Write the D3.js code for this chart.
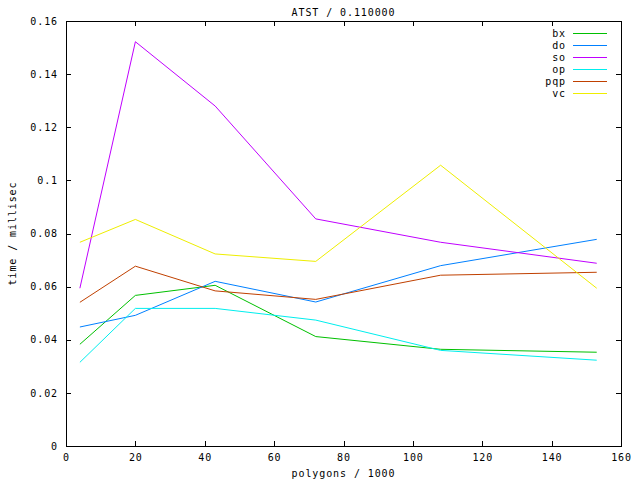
<!DOCTYPE html>
<html>
<head>
<meta charset="utf-8">
<script src="https://cdn.jsdelivr.net/npm/d3@7"></script>
<style>
  html, body { margin: 0; padding: 0; background: #fff; }
  svg { display: block; }
  text { font-family: "DejaVu Sans Mono", monospace; font-size: 10px; letter-spacing: 0.9px; fill: #000; }
</style>
</head>
<body>
<script>
const xValues = [4, 20, 43, 72, 108, 153];
const seriesNames = ["bx", "do", "so", "op", "pqp", "vc"];
const seriesColors = ["#00c000", "#0080ff", "#c000ff", "#00eeee", "#c04000", "#eeee00"];
const bx  = [0.0383, 0.0567, 0.0605, 0.0412, 0.0364, 0.0353];
const doV = [0.0448, 0.0492, 0.0620, 0.0542, 0.0679, 0.0778];
const so  = [0.0594, 0.1522, 0.1280, 0.0855, 0.0767, 0.0688];
const op  = [0.0315, 0.0518, 0.0518, 0.0474, 0.0360, 0.0323];
const pqp = [0.0541, 0.0677, 0.0584, 0.0552, 0.0643, 0.0654];
const vc  = [0.0767, 0.0853, 0.0723, 0.0695, 0.1057, 0.0594];
const seriesValues = [bx, doV, so, op, pqp, vc];
const xTicks = [0, 20, 40, 60, 80, 100, 120, 140, 160];
const xTickLabels = ["0", "20", "40", "60", "80", "100", "120", "140", "160"];
const yTicks = [0, 0.02, 0.04, 0.06, 0.08, 0.1, 0.12, 0.14, 0.16];
const yTickLabels = ["0", "0.02", "0.04", "0.06", "0.08", "0.1", "0.12", "0.14", "0.16"];
const titleText = "ATST / 0.110000";
const xLabel = "polygons / 1000";
const yLabel = "time / millisec";

const W = 640, H = 480;
const L = 66, R = 621, T = 21, B = 446;

const svg = d3.select("body").append("svg").attr("width", W).attr("height", H);
const x = d3.scaleLinear().domain([0, 160]).range([L, R]);
const y = d3.scaleLinear().domain([0, 0.16]).range([B, T]);

const fx = d => xTickLabels[xTicks.indexOf(d)];
const fy = d => yTickLabels[yTicks.indexOf(d)];

function styleAxis(g) {
  g.select(".domain").remove();
  g.selectAll("line").attr("stroke", "#000").attr("shape-rendering", "crispEdges");
  g.selectAll("text").attr("font-family", null).attr("font-size", null).attr("fill", "#000");
}

svg.append("g").attr("transform", `translate(${L},0)`)
  .call(d3.axisLeft(y).tickValues(yTicks).tickFormat(fy).tickSize(-5).tickPadding(8))
  .call(styleAxis);
svg.append("g").attr("transform", `translate(${R},0)`)
  .call(d3.axisRight(y).tickValues(yTicks).tickFormat("").tickSize(-5))
  .call(styleAxis);
svg.append("g").attr("transform", `translate(0,${B})`)
  .call(d3.axisBottom(x).tickValues(xTicks).tickFormat(fx).tickSize(-5).tickPadding(8))
  .call(styleAxis);
svg.append("g").attr("transform", `translate(0,${T})`)
  .call(d3.axisTop(x).tickValues(xTicks).tickFormat("").tickSize(-5))
  .call(styleAxis);

svg.append("rect")
  .attr("x", L + 0.5).attr("y", T + 0.5)
  .attr("width", R - L).attr("height", B - T)
  .attr("fill", "none").attr("stroke", "#000").attr("stroke-width", 1)
  .attr("shape-rendering", "crispEdges");

const line = d3.line().x((d, i) => x(xValues[i])).y(d => y(d));
seriesValues.forEach((vals, k) => {
  svg.append("path")
    .attr("d", line(vals))
    .attr("fill", "none")
    .attr("stroke", seriesColors[k])
    .attr("stroke-width", 1);
});

// legend
const leg = svg.append("g");
seriesNames.forEach((name, k) => {
  const yy = 33 + 12 * k;
  leg.append("text").attr("x", 566).attr("y", yy).attr("dy", "0.35em")
    .attr("text-anchor", "end").text(name);
  leg.append("rect").attr("x", 573).attr("y", yy).attr("width", 34).attr("height", 1.2)
    .attr("fill", seriesColors[k]).attr("shape-rendering", "crispEdges");
});

svg.append("text").attr("x", (L + R) / 2).attr("y", 16)
  .attr("text-anchor", "middle").text(titleText);
svg.append("text").attr("x", (L + R) / 2).attr("y", 473).attr("dy", "0.35em")
  .attr("text-anchor", "middle").text(xLabel);
svg.append("text")
  .attr("transform", `translate(12,${(T + B) / 2}) rotate(-90)`)
  .attr("dy", "0.35em")
  .attr("text-anchor", "middle").text(yLabel);
</script>
</body>
</html>
